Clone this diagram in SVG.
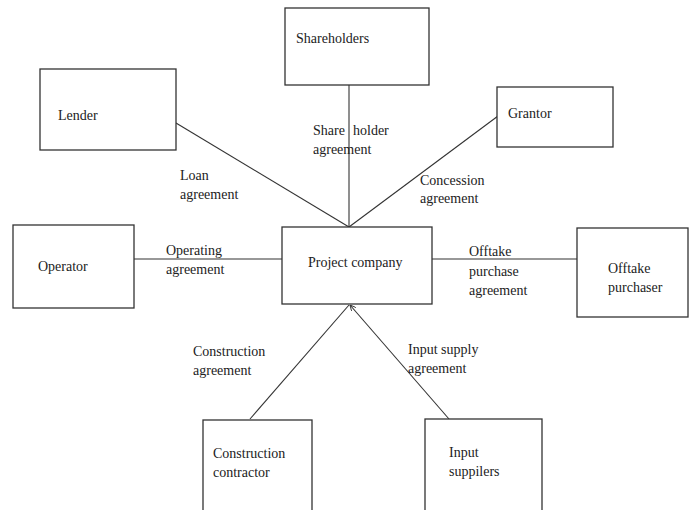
<svg xmlns="http://www.w3.org/2000/svg" width="689" height="510" viewBox="0 0 689 510">
<style>
.box{fill:#fff;stroke:#333;stroke-width:1.3}
.ln{stroke:#333;stroke-width:1.1;fill:none}
text{font-family:"Liberation Serif","Times New Roman",serif;font-size:14px;fill:#222}
</style>
<defs>
<marker id="ah" viewBox="0 0 10 10" refX="10" refY="5" markerWidth="6" markerHeight="6" orient="auto" markerUnits="userSpaceOnUse">
<path d="M0,0 L10,5 L0,10" fill="none" stroke="#333" stroke-width="1.5"/>
</marker>
</defs>
<rect width="689" height="510" fill="#fff"/>
<g id="connectors">
<line class="ln" x1="349" y1="85" x2="349" y2="227"/>
<line class="ln" x1="176" y1="123" x2="349" y2="227"/>
<line class="ln" x1="498" y1="116" x2="349" y2="227"/>
<line class="ln" x1="134" y1="259" x2="282" y2="259"/>
<line class="ln" x1="432" y1="259" x2="577" y2="259"/>
<line class="ln" x1="250" y1="419" x2="349" y2="305"/>
<line class="ln" x1="449" y1="419" x2="350" y2="305" marker-end="url(#ah)"/>
</g>
<g id="labels">
<text x="313" y="135">Share<tspan x="353">holder</tspan></text>
<text x="313" y="154">agreement</text>
<text x="180" y="180">Loan</text>
<text x="180" y="199">agreement</text>
<text x="420" y="185">Concession</text>
<text x="420" y="203">agreement</text>
<text x="166" y="255">Operating</text>
<text x="166" y="274">agreement</text>
<text x="469" y="256">Offtake</text>
<text x="469" y="276">purchase</text>
<text x="469" y="295">agreement</text>
<text x="193" y="356">Construction</text>
<text x="193" y="375">agreement</text>
<text x="408" y="354">Input supply</text>
<text x="408" y="373">agreement</text>
</g>
<g id="shareholders"><rect class="box" x="285" y="8" width="144" height="77"/><text x="296" y="43">Shareholders</text></g>
<g id="lender"><rect class="box" x="40" y="69" width="136" height="81"/><text x="58" y="120">Lender</text></g>
<g id="grantor"><rect class="box" x="497" y="87" width="116" height="60"/><text x="508" y="118">Grantor</text></g>
<g id="project-company"><rect class="box" x="282" y="227" width="150" height="77"/><text x="308" y="267">Project company</text></g>
<g id="operator"><rect class="box" x="13" y="225" width="121" height="83"/><text x="38" y="271">Operator</text></g>
<g id="offtake-purchaser"><rect class="box" x="577" y="228" width="111" height="89"/><text x="608" y="273">Offtake</text><text x="608" y="292">purchaser</text></g>
<g id="construction-contractor"><rect class="box" x="203" y="420" width="109" height="110"/><text x="213" y="458">Construction</text><text x="213" y="477">contractor</text></g>
<g id="input-suppliers"><rect class="box" x="425" y="419" width="117" height="111"/><text x="449" y="457">Input</text><text x="449" y="476">suppilers</text></g>
</svg>
